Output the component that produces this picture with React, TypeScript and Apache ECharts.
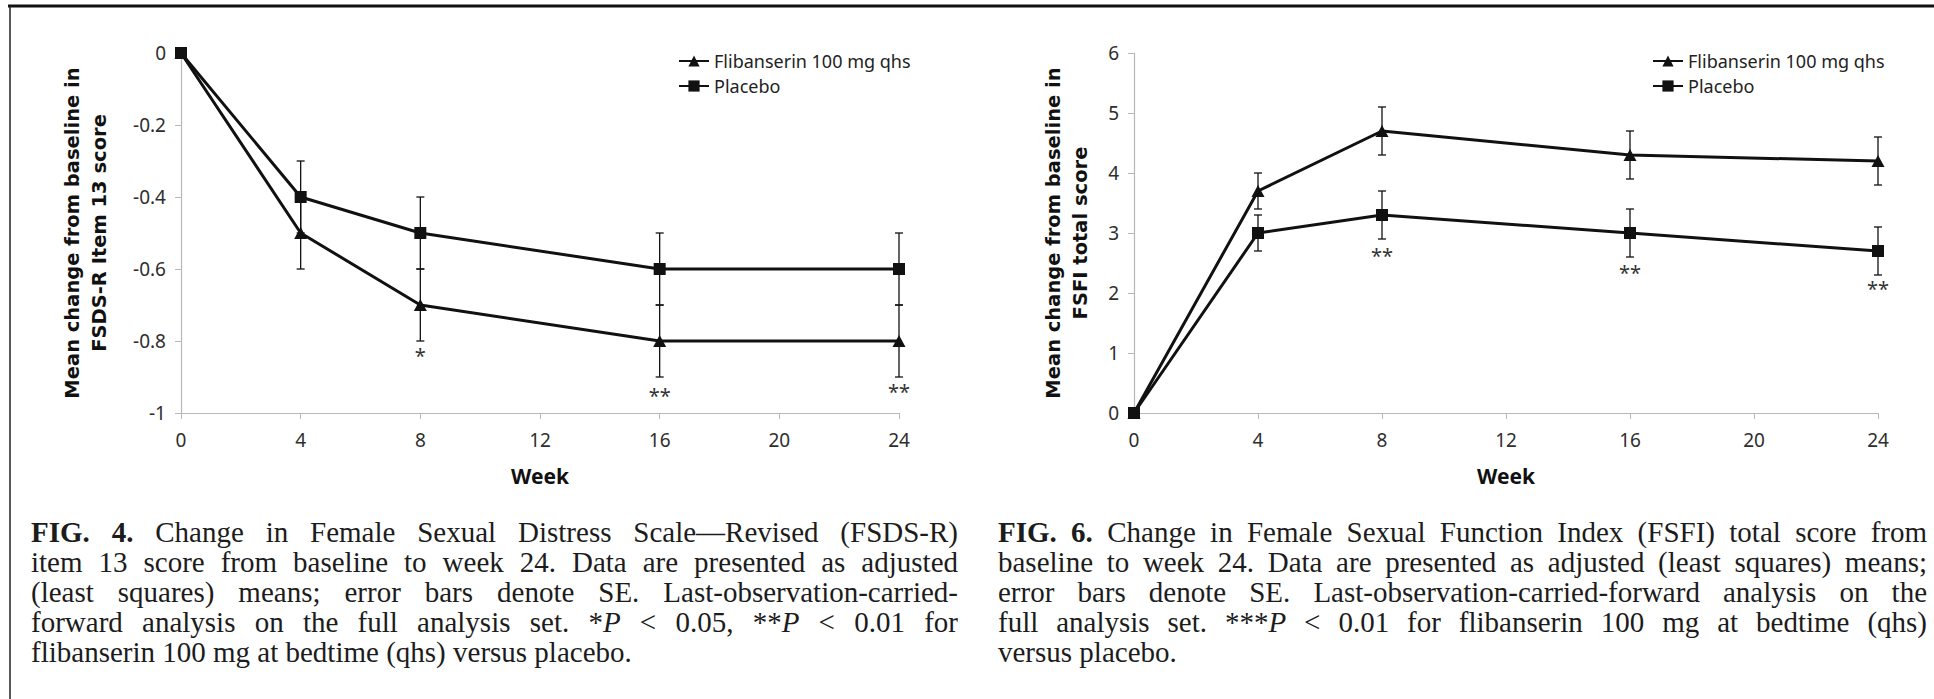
import React, { useEffect, useRef } from "react";
import * as echarts from "echarts";

// ---------- data ----------
const weeks = [0, 4, 8, 16, 24];

const seriesNames = ["Flibanserin 100 mg qhs", "Placebo"];

// FIG. 4 – FSDS-R item 13
const fsdsFlib = [0, -0.5, -0.7, -0.8, -0.8];
const fsdsPlac = [0, -0.4, -0.5, -0.6, -0.6];
const fsdsFlibSE = [null, 0.1, 0.1, 0.1, 0.1];
const fsdsPlacSE = [null, 0.1, 0.1, 0.1, 0.1];
const fsdsSigWeeks = [8, 16, 24];
const fsdsSigY = [-0.84, -0.95, -0.94];
const fsdsSigMarks = ["*", "**", "**"];

// FIG. 6 – FSFI total score
const fsfiFlib = [0, 3.7, 4.7, 4.3, 4.2];
const fsfiPlac = [0, 3.0, 3.3, 3.0, 2.7];
const fsfiFlibSE = [null, 0.3, 0.4, 0.4, 0.4];
const fsfiPlacSE = [null, 0.3, 0.4, 0.4, 0.4];
const fsfiSigWeeks = [8, 16, 24];
const fsfiSigY = [2.63, 2.35, 2.07];
const fsfiSigMarks = ["**", "**", "**"];

const fsdsYTitle = "Mean change from baseline in\nFSDS-R Item 13 score";
const fsfiYTitle = "Mean change from baseline in\nFSFI total score";
const xTitle = "Week";

const fig4Caption = [
  "b:FIG. b:4. Change in Female Sexual Distress Scale\u2014Revised (FSDS-R)",
  "item 13 score from baseline to week 24. Data are presented as adjusted",
  "(least squares) means; error bars denote SE. Last-observation-carried-",
  "forward analysis on the full analysis set. *|i:P < 0.05, **|i:P < 0.01 for",
  "flibanserin 100 mg at bedtime (qhs) versus placebo.",
];
const fig6Caption = [
  "b:FIG. b:6. Change in Female Sexual Function Index (FSFI) total score from",
  "baseline to week 24. Data are presented as adjusted (least squares) means;",
  "error bars denote SE. Last-observation-carried-forward analysis on the",
  "full analysis set. ***|i:P < 0.01 for flibanserin 100 mg at bedtime (qhs)",
  "versus placebo.",
];

// ---------- helpers ----------
type Seg = { t: string; b?: boolean; i?: boolean };
function parseWord(w: string): Seg[] {
  return w.split("|").map((s) =>
    s.startsWith("b:") ? { t: s.slice(2), b: true } : s.startsWith("i:") ? { t: s.slice(2), i: true } : { t: s }
  );
}

const SERIF = '"Liberation Serif", "Times New Roman", serif';

function captionElements(lines: string[], x0: number, y0: number, width: number, lh: number, fs: number) {
  const canvas = document.createElement("canvas");
  const ctx = canvas.getContext("2d")!;
  const fontOf = (s: Seg) => `${s.i ? "italic " : ""}${s.b ? "bold " : ""}${fs}px ${SERIF}`;
  const measure = (s: Seg) => {
    ctx.font = fontOf(s);
    return ctx.measureText(s.t).width;
  };
  const out: any[] = [];
  lines.forEach((line, li) => {
    const words = line.split(" ").map(parseWord);
    const widths = words.map((w) => w.reduce((a, s) => a + measure(s), 0));
    const sp = measure({ t: " " });
    const total = widths.reduce((a, b) => a + b, 0);
    const justify = li < lines.length - 1;
    const gap = justify && words.length > 1 ? Math.max(2, (width - total) / (words.length - 1)) : sp;
    let x = x0;
    const y = y0 + li * lh;
    words.forEach((w) => {
      w.forEach((s) => {
        out.push({
          type: "text",
          x,
          y,
          silent: true,
          style: {
            text: s.t,
            fontFamily: SERIF,
            fontSize: fs,
            fontWeight: s.b ? "bold" : "normal",
            fontStyle: s.i ? "italic" : "normal",
            fill: "#1c1c1c",
            align: "left",
            verticalAlign: "middle",
            textAlign: "left",
            textVerticalAlign: "middle",
          },
        });
        x += measure(s);
      });
      x += gap;
    });
  });
  return out;
}

const AXIS_GRAY = "#b8b8b8";
const LABEL_COLOR = "#2e2e2e";
const INK = "#111111";
const SANS = '"Noto Sans", "Open Sans", sans-serif';

function xAxisCfg(gridIndex: number) {
  return {
    type: "value",
    gridIndex,
    min: 0,
    max: 24,
    interval: 4,
    name: xTitle,
    nameLocation: "middle",
    nameGap: 52,
    nameTextStyle: { fontFamily: SANS, fontWeight: "bold", fontSize: 21, color: INK },
    axisLine: { show: true, onZero: false, lineStyle: { color: AXIS_GRAY, width: 1.2 } },
    axisTick: { show: true, length: 6, lineStyle: { color: AXIS_GRAY } },
    axisLabel: { margin: 17, fontFamily: SANS, fontSize: 19, color: LABEL_COLOR },
    splitLine: { show: false },
  };
}

function yAxisCfg(gridIndex: number, min: number, max: number, interval: number) {
  return {
    type: "value",
    gridIndex,
    min,
    max,
    interval,
    axisLine: { show: true, onZero: false, lineStyle: { color: AXIS_GRAY, width: 1.2 } },
    axisTick: { show: true, length: 6, lineStyle: { color: AXIS_GRAY } },
    axisLabel: { margin: 15, fontFamily: SANS, fontSize: 19, color: LABEL_COLOR },
    splitLine: { show: false },
  };
}

function lineSeries(name: string, idx: number, vals: number[], symbol: string, size: any) {
  return {
    type: "line",
    name,
    xAxisIndex: idx,
    yAxisIndex: idx,
    data: weeks.map((w, i) => [w, vals[i]]),
    symbol,
    symbolSize: size,
    showAllSymbol: true,
    lineStyle: { color: INK, width: 3 },
    itemStyle: { color: INK },
    z: 4,
  };
}

function errorSeries(idx: number, vals: number[], se: (number | null)[]) {
  const data: number[][] = [];
  weeks.forEach((w, i) => {
    const s = se[i];
    if (s != null) data.push([w, vals[i] - s, vals[i] + s]);
  });
  return {
    type: "custom",
    xAxisIndex: idx,
    yAxisIndex: idx,
    data,
    encode: { x: 0, y: [1, 2] },
    z: 2,
    silent: true,
    renderItem: (params: any, api: any) => {
      const x = api.value(0);
      const lo = api.coord([x, api.value(1)]);
      const hi = api.coord([x, api.value(2)]);
      const w = 4;
      const st = { stroke: INK, lineWidth: 1.3 };
      return {
        type: "group",
        children: [
          { type: "line", shape: { x1: lo[0], y1: lo[1], x2: hi[0], y2: hi[1] }, style: st },
          { type: "line", shape: { x1: lo[0] - w, y1: lo[1], x2: lo[0] + w, y2: lo[1] }, style: st },
          { type: "line", shape: { x1: hi[0] - w, y1: hi[1], x2: hi[0] + w, y2: hi[1] }, style: st },
        ],
      };
    },
  };
}

function sigSeries(idx: number, wks: number[], ys: number[], marks: string[]) {
  return {
    type: "custom",
    xAxisIndex: idx,
    yAxisIndex: idx,
    data: wks.map((w, i) => [w, ys[i]]),
    silent: true,
    z: 5,
    renderItem: (params: any, api: any) => {
      const p = api.coord([api.value(0), api.value(1)]);
      return {
        type: "text",
        x: p[0],
        y: p[1],
        style: {
          text: marks[params.dataIndex],
          fontFamily: SANS,
          fontSize: 20,
          fill: "#333",
          align: "center",
          verticalAlign: "middle",
          textAlign: "center",
          textVerticalAlign: "middle",
        },
      };
    },
  };
}

function legendCfg(left: number) {
  return {
    left,
    top: 47,
    orient: "vertical",
    itemGap: 7,
    itemWidth: 30,
    itemHeight: 14,
    selectedMode: false,
    data: seriesNames,
    textStyle: { fontFamily: SANS, fontSize: 18, color: "#222", lineHeight: 18 },
  };
}

function yTitle(x: number, text: string) {
  return {
    type: "text",
    x,
    y: 233,
    rotation: Math.PI / 2,
    silent: true,
    style: {
      text,
      fontFamily: '"DejaVu Sans", Verdana, sans-serif',
      fontWeight: "bold",
      fontSize: 19.5,
      lineHeight: 27,
      fill: INK,
      align: "center",
      verticalAlign: "middle",
      textAlign: "center",
      textVerticalAlign: "middle",
    },
  };
}

export default function App() {
  const ref = useRef<HTMLDivElement>(null);
  useEffect(() => {
    if (!ref.current) return;
    const chart = echarts.init(ref.current, undefined, { renderer: "svg" });
    const option: any = {
      animation: false,
      backgroundColor: "#ffffff",
      grid: [
        { left: 181, top: 53, width: 718, height: 360 },
        { left: 1134, top: 53, width: 744, height: 360 },
      ],
      xAxis: [xAxisCfg(0), xAxisCfg(1)],
      yAxis: [yAxisCfg(0, -1, 0, 0.2), yAxisCfg(1, 0, 6, 1)],
      legend: [legendCfg(673), legendCfg(1647)],
      series: [
        errorSeries(0, fsdsFlib, fsdsFlibSE),
        errorSeries(0, fsdsPlac, fsdsPlacSE),
        lineSeries(seriesNames[0], 0, fsdsFlib, "triangle", [13, 12]),
        lineSeries(seriesNames[1], 0, fsdsPlac, "rect", 12),
        sigSeries(0, fsdsSigWeeks, fsdsSigY, fsdsSigMarks),
        errorSeries(1, fsfiFlib, fsfiFlibSE),
        errorSeries(1, fsfiPlac, fsfiPlacSE),
        lineSeries(seriesNames[0], 1, fsfiFlib, "triangle", [13, 12]),
        lineSeries(seriesNames[1], 1, fsfiPlac, "rect", 12),
        sigSeries(1, fsfiSigWeeks, fsfiSigY, fsfiSigMarks),
      ],
      graphic: [
        { type: "line", silent: true, shape: { x1: 8, y1: 6, x2: 1934, y2: 6 }, style: { stroke: "#111", lineWidth: 3 } },
        { type: "line", silent: true, shape: { x1: 10, y1: 6, x2: 10, y2: 699 }, style: { stroke: "#222", lineWidth: 1.5 } },
        yTitle(86, fsdsYTitle),
        yTitle(1067, fsfiYTitle),
        ...captionElements(fig4Caption, 31, 532, 927, 30, 29),
        ...captionElements(fig6Caption, 998, 532, 929, 30, 29),
      ],
    };
    chart.setOption(option);
    return () => chart.dispose();
  }, []);
  return (
    <div
      ref={ref}
      style={{ position: "fixed", left: 0, top: 0, width: 1934, height: 699, background: "#fff" }}
    />
  );
}
